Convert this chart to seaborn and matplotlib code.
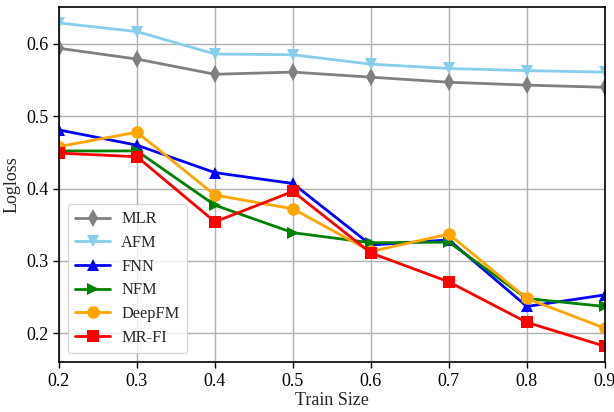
import matplotlib
matplotlib.use("Agg")
import matplotlib.pyplot as plt
import seaborn as sns
import pandas as pd

train_size = [0.2, 0.3, 0.4, 0.5, 0.6, 0.7, 0.8, 0.9]
mlr = [0.594, 0.579, 0.558, 0.561, 0.554, 0.547, 0.543, 0.540]
afm = [0.629, 0.617, 0.586, 0.585, 0.572, 0.566, 0.563, 0.561]
fnn = [0.481, 0.460, 0.422, 0.407, 0.322, 0.329, 0.237, 0.253]
nfm = [0.452, 0.452, 0.377, 0.339, 0.325, 0.326, 0.248, 0.237]
deepfm = [0.458, 0.478, 0.391, 0.372, 0.313, 0.337, 0.248, 0.207]
mrfi = [0.449, 0.444, 0.354, 0.396, 0.311, 0.271, 0.215, 0.182]

models = ["MLR", "AFM", "FNN", "NFM", "DeepFM", "MR-FI"]
series = [mlr, afm, fnn, nfm, deepfm, mrfi]
colors = ["gray", "skyblue", "blue", "green", "orange", "red"]
markers = ["d", "v", "^", ">", "o", "s"]

rows = []
for m, vals in zip(models, series):
    for x, v in zip(train_size, vals):
        rows.append({"Train Size": x, "Logloss": v, "Model": m})
df = pd.DataFrame(rows)

sns.set_style("whitegrid")
plt.rcParams["font.family"] = ["Liberation Serif", "DejaVu Serif"]
plt.rcParams["mathtext.fontset"] = "stix"

fig = plt.figure(figsize=(6.14, 4.12), dpi=100)
ax = fig.add_axes([0.096, 0.121, 0.889, 0.862])
sns.lineplot(data=df, x="Train Size", y="Logloss", hue="Model", style="Model",
             hue_order=models, style_order=models,
             palette=dict(zip(models, colors)), markers=dict(zip(models, markers)),
             dashes=False, markersize=9, linewidth=2, markeredgewidth=0, ax=ax)

ax.set_xlim(0.2, 0.9)
ax.set_ylim(0.16, 0.651)
ax.set_xticks(train_size)
ax.set_xticklabels([f"{v:.1f}" for v in train_size])
ax.set_yticks([0.2, 0.3, 0.4, 0.5, 0.6])
ax.set_yticklabels(["0.2", "0.3", "0.4", "0.5", "0.6"])
ax.tick_params(axis="both", labelsize=13, direction="out", length=4, width=1,
               bottom=True, left=True, color="black", labelcolor="black")
ax.set_xlabel("Train Size", fontsize=13, labelpad=2)
ax.set_ylabel("Logloss", fontsize=13, labelpad=4)
ax.grid(True, color="#b0b0b0", linewidth=1)
for s in ax.spines.values():
    s.set_color("black")
    s.set_linewidth(1.2)

leg = ax.legend(loc="lower left", bbox_to_anchor=(0.0, 0.0), fontsize=11.8,
                frameon=True, handlelength=2.1, handletextpad=0.7,
                labelspacing=0.47, borderpad=0.45, borderaxespad=0.55)
leg.get_frame().set_edgecolor("#cccccc")

fig.savefig("out.png", dpi=100)
